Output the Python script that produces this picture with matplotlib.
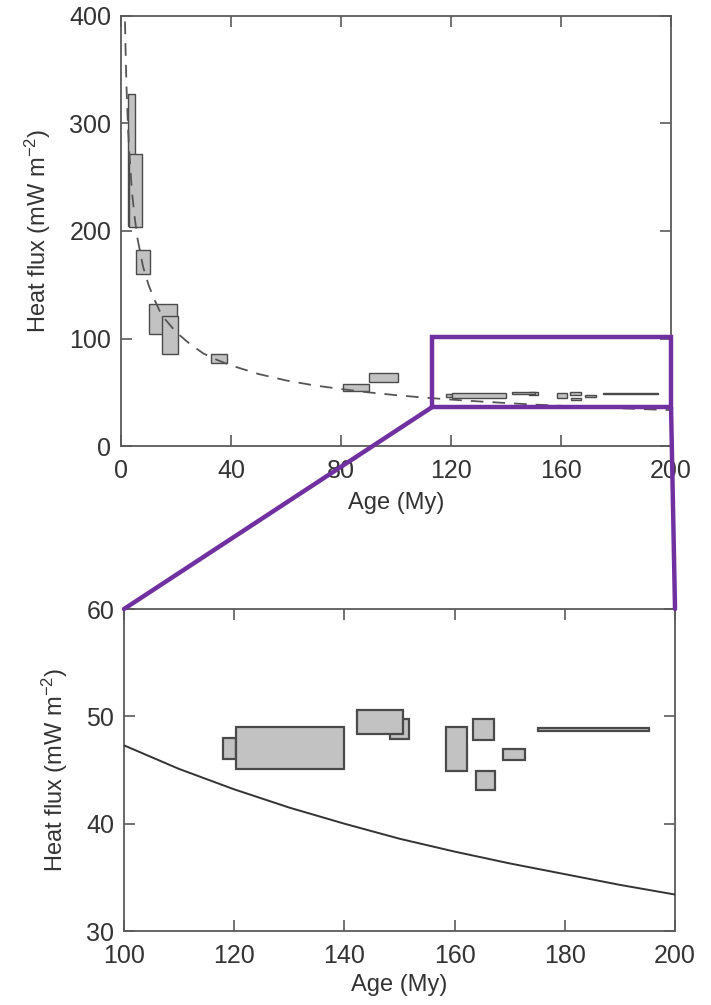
import matplotlib
matplotlib.use("Agg")
import matplotlib.pyplot as plt
from matplotlib.patches import Rectangle, ConnectionPatch

plt.rcParams['font.family'] = ['Liberation Sans', 'DejaVu Sans']
plt.rcParams['mathtext.fontset'] = 'custom'
plt.rcParams['mathtext.rm'] = 'Liberation Sans'
plt.rcParams['mathtext.it'] = 'Liberation Sans'

# cooling curve
curve_age = [1.3, 1.7, 2, 2.5, 3, 4, 5, 6, 8, 10, 12, 14, 16, 20, 25, 30, 35, 40, 50,
             60, 70, 80, 90, 100, 110, 120, 130, 140, 150, 160, 170, 180, 190, 200]
curve_q = [415, 363, 334, 299, 273, 236, 212, 193, 167, 150, 137, 126, 118, 106, 95,
           86, 80, 75, 67, 61, 56.5, 53, 49.9, 47.3, 45.1, 43.2, 41.5, 40.0, 38.6,
           37.4, 36.3, 35.3, 34.3, 33.4]

# heat flow boxes on young sea floor (top panel only)
young_age_lo = [2.5, 3.0, 5.5, 10.3, 14.9, 32.6, 80.8, 90.3]
young_age_hi = [5.0, 7.5, 10.5, 20.5, 20.8, 38.5, 90.3, 100.8]
young_q_lo = [205, 204, 160, 104, 85.6, 77, 51.2, 59.5]
young_q_hi = [327, 272, 182, 132, 121, 85.6, 57.7, 68.2]

# heat flow boxes on old sea floor (both panels)
old_age_lo = [118.0, 120.3, 148.3, 142.3, 158.4, 163.3, 163.8, 168.7, 175.1]
old_age_hi = [120.3, 140.0, 151.8, 150.7, 162.2, 167.2, 167.4, 172.8, 195.2]
old_q_lo = [46.0, 45.1, 47.9, 48.4, 44.9, 47.8, 43.1, 45.9, 48.6]
old_q_hi = [48.0, 49.0, 49.8, 50.6, 49.0, 49.8, 44.9, 47.0, 48.9]

box_face = '#c2c2c2'
box_edge = '#4a4a4a'
axis_col = '#5a5a5a'
text_col = '#333333'
purple = '#7030a0'


def add_boxes(ax, lo_a, hi_a, lo_q, hi_q, lw):
    for a0, a1, q0, q1 in zip(lo_a, hi_a, lo_q, hi_q):
        ax.add_patch(Rectangle((a0, q0), a1 - a0, q1 - q0, facecolor=box_face,
                               edgecolor=box_edge, linewidth=lw, zorder=2))


def style(ax):
    for s in ax.spines.values():
        s.set_color(axis_col)
        s.set_linewidth(1.3)
    ax.tick_params(direction='in', length=8, width=1.2, color=axis_col,
                   labelsize=18, labelcolor=text_col, top=True, right=True)
    ax.tick_params(axis='x', pad=9)
    ax.tick_params(axis='y', pad=7)


fig = plt.figure(figsize=(7.11, 10.05), dpi=100)

ax1 = fig.add_axes([0.1702, 0.5562, 0.7736, 0.4279])
add_boxes(ax1, young_age_lo, young_age_hi, young_q_lo, young_q_hi, 1.0)
add_boxes(ax1, old_age_lo, old_age_hi, old_q_lo, old_q_hi, 1.0)
ax1.plot(curve_age, curve_q, color='#555555', lw=1.3, ls=(0, (7, 5)), zorder=3)
ax1.set_xlim(0, 200)
ax1.set_ylim(0, 400)
ax1.set_xticks([0, 40, 80, 120, 160, 200])
ax1.set_yticks([0, 100, 200, 300, 400])
ax1.set_xlabel('Age (My)', fontsize=17, color=text_col, labelpad=7)
ax1.set_ylabel('Heat flux (mW m$^{-2}$)', fontsize=17, color=text_col, labelpad=12)
style(ax1)

ax2 = fig.add_axes([0.1744, 0.0736, 0.775, 0.3204])
add_boxes(ax2, old_age_lo, old_age_hi, old_q_lo, old_q_hi, 1.6)
ax2.plot(curve_age, curve_q, color=text_col, lw=1.4, zorder=3)
ax2.set_xlim(100, 200)
ax2.set_ylim(30, 60)
ax2.set_xticks([100, 120, 140, 160, 180, 200])
ax2.set_yticks([30, 40, 50, 60])
ax2.set_xlabel('Age (My)', fontsize=17, color=text_col, labelpad=5)
ax2.set_ylabel('Heat flux (mW m$^{-2}$)', fontsize=17, color=text_col, labelpad=12)
style(ax2)

# zoom frame and connectors
ax1.add_patch(Rectangle((113, 36), 87, 65, fill=False, edgecolor=purple, lw=3.2,
                        clip_on=False, zorder=5))
for xa, xb in [(113, 100), (200, 200)]:
    con = ConnectionPatch(xyA=(xa, 36), coordsA=ax1.transData,
                          xyB=(xb, 60), coordsB=ax2.transData,
                          color=purple, lw=3.2, zorder=5)
    fig.add_artist(con)

fig.savefig('out.png', dpi=100)
